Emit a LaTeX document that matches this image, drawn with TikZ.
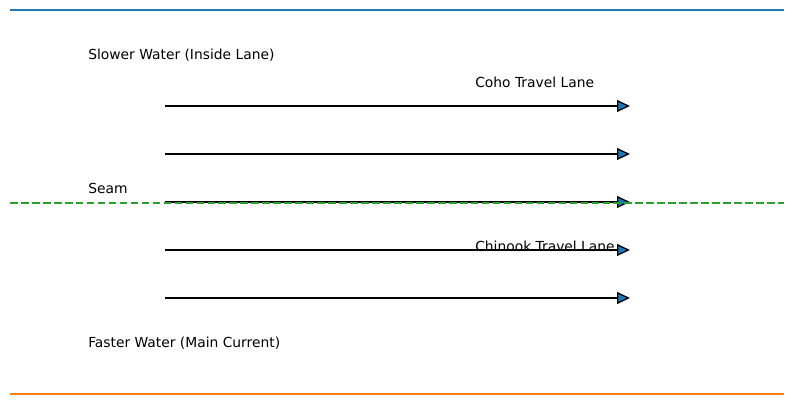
\documentclass[tikz,border=0pt]{standalone}
\usepackage{fontspec}
\setmainfont{DejaVu Sans}
\usetikzlibrary{arrows.meta}

\definecolor{tabblue}{HTML}{1F77B4}
\definecolor{taborange}{HTML}{FF7F0E}
\definecolor{tabgreen}{HTML}{2CA02C}

\tikzset{
  lane/.style={black, line width=0.9bp, -{Triangle[length=9.2bp,width=8.4bp,fill=tabblue]}},
  label/.style={anchor=base west, inner sep=0pt, font=\fontsize{10}{12}\selectfont}
}

\begin{document}
\begin{tikzpicture}[x=0.72bp, y=-0.72bp]
        \useasboundingbox (0,0) rectangle (794,405);
        % edges of the stream
        \coordinate (bankL) at (10,10);
        \coordinate (bankR) at (784,10);
        \coordinate (mainL) at (10,394);
        \coordinate (mainR) at (784,394);
        \draw[tabblue, line width=0.75bp] (bankL) -- (bankR);
        \draw[taborange, line width=0.75bp] (mainL) -- (mainR);
        % flow lanes
        \foreach \i/\y in {1/106,2/154,3/202,4/250,5/298}{
        \coordinate (s\i) at (165,\y);
        \coordinate (e\i) at (630,\y);
        \draw[lane] (s\i) -- (e\i);
        }
        % seam line
        \coordinate (seamL) at (10,202.8);
        \coordinate (seamR) at (784,202.8);
        \draw[tabgreen, line width=1.1bp, dash pattern=on 5.5bp off 2.4bp] (seamL) -- (seamR);
        \node[label] (slow) at (88,59.5) {Slower Water (Inside Lane)};
        \node[label] (coho) at (475,87.5) {Coho Travel Lane};
        \node[label] (seam) at (88,193.5) {Seam};
        \node[label] (chinook) at (475,251.5) {Chinook Travel Lane};
        \node[label] (fast) at (88,347.5) {Faster Water (Main Current)};
        \end{tikzpicture}
\end{document}
